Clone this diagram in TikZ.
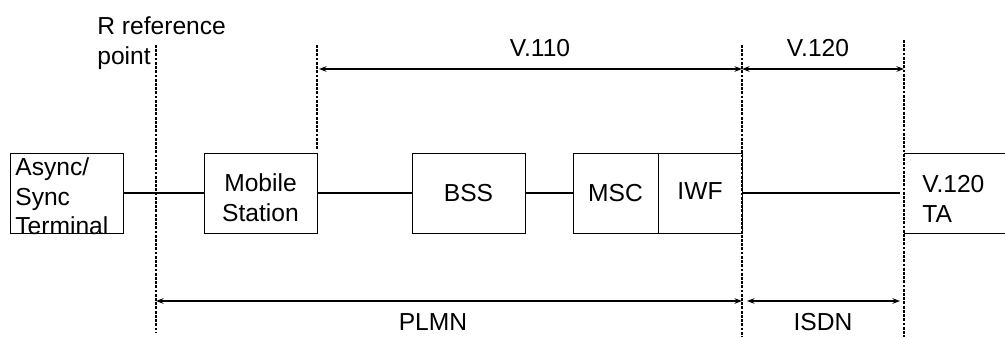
\documentclass[tikz,border=0pt]{standalone}
\usepackage{fontspec}
\setmainfont{Liberation Sans}
\usetikzlibrary{positioning,arrows.meta,calc}

\begin{document}
\begin{tikzpicture}[
  font=\fontsize{14}{17}\selectfont,
  >={Stealth[length=1.5mm,width=1.1mm]},
  blk/.style={draw=black, line width=0.5pt, minimum width=2.26cm, minimum height=1.6cm, inner sep=0pt, align=center},
  link/.style={draw=black, line width=0.9pt},
  refline/.style={draw=black, line width=0.7pt, dash pattern=on 1.6pt off 0.8pt},
  span/.style={<->, draw=black, line width=0.9pt},
  lbl/.style={inner sep=0pt, align=left}
]
  \useasboundingbox (0,0) rectangle (20.1,6.76);
  % reference points
  \coordinate (rtop) at (3.12,5.86);
  \coordinate (rbot) at (3.12,0.10);
  \coordinate (mstop) at (6.34,5.86);
  \coordinate (msbot) at (6.34,3.78);
  \coordinate (itop) at (14.84,5.86);
  \coordinate (ibot) at (14.84,0.02);
  \coordinate (ttop) at (18.08,5.96);
  \coordinate (tbot) at (18.08,0.02);
  \draw[refline] (rtop) -- (rbot);
  \draw[refline] (mstop) -- (msbot);
  \draw[refline] (itop) -- (ibot);
  \draw[refline] (ttop) -- (tbot);
  \node[lbl, anchor=north west] (rref) at (1.94,6.43) {R reference\\point};

  % boxes
  \node[lbl, anchor=north west] (termtxt) at (0.30,3.62) {Async/\\Sync\\Terminal};
  \node[blk] (term) at (1.33,2.9) {};
  \node[blk] (ms) at (5.21,2.9) {};
  \node[lbl, align=center] (mstxt) at ([yshift=-0.1cm]ms.center) {Mobile\\Station};
  \node[blk] (bss) at (9.37,2.9) {\raisebox{-3pt}{BSS}};
  \node[blk, minimum width=1.70cm] (msc) at (12.31,2.9) {MSC};
  \node[blk, minimum width=1.68cm] (iwf) at (14.00,2.9) {\raisebox{2.5pt}{IWF}};
  \node[lbl, anchor=west] (ta) at (18.44,2.78) {V.120\\TA};
  \coordinate (tanw) at (18.08,3.70);
  \coordinate (tane) at (20.10,3.70);
  \coordinate (tasw) at (18.08,2.10);
  \coordinate (tase) at (20.10,2.10);
  \draw[line width=0.5pt] (tanw) -- (tane) (tasw) -- (tase);
  \coordinate (taport) at (18.00,2.9);

  % links
  \draw[link] (term) -- (ms);
  \draw[link] (ms) -- (bss);
  \draw[link] (bss) -- (msc);
  \draw[link] (msc.north east) -- (msc.south east);
  \draw[link] (iwf.east) -- (taport);

  % spans
  \coordinate (v110a) at (6.38,5.38);
  \coordinate (v110b) at (14.84,5.38);
  \coordinate (v120b) at (18.08,5.38);
  \coordinate (plmna) at (3.12,0.74);
  \coordinate (plmnb) at (14.84,0.74);
  \coordinate (isdna) at (14.94,0.74);
  \coordinate (isdnb) at (18.00,0.74);
  \draw[span] (v110a) -- (v110b);
  \draw[span] (v110b) -- (v120b);
  \draw[span] (plmna) -- (plmnb);
  \draw[span] (isdna) -- (isdnb);
  \node (v110) at (10.80,5.80) {V.110};
  \node (v120) at (16.36,5.80) {V.120};
  \node (plmn) at (8.66,0.32) {PLMN};
  \node (isdn) at (16.46,0.32) {ISDN};
\end{tikzpicture}
\end{document}
